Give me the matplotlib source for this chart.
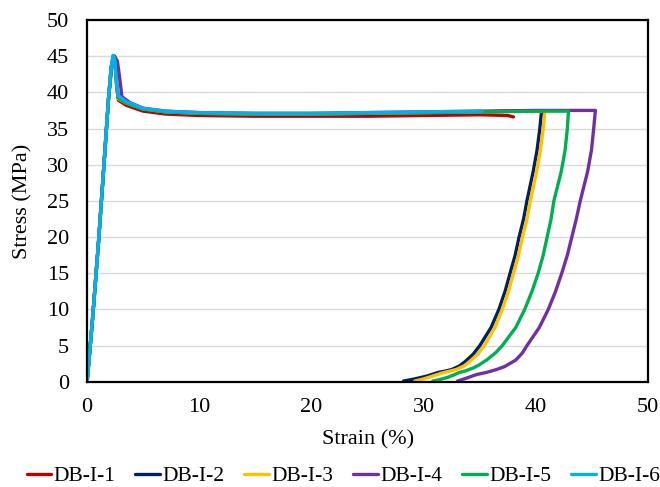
import matplotlib
matplotlib.use("Agg")
from matplotlib import pyplot as plt

plt.rcParams['font.family'] = ['Liberation Serif', 'DejaVu Serif']

labels = ["DB-I-1", "DB-I-2", "DB-I-3", "DB-I-4", "DB-I-5", "DB-I-6"]
colors = ["#C00000", "#002060", "#FFC000", "#7030A0", "#00B050", "#00B0F0"]

# loading + plateau part
# DB-I-1 (stops at ~38 %, no unloading branch)
strain_1 = [0, 0.5, 1.0, 1.5, 1.9, 2.15, 2.35, 2.5, 2.65, 2.8, 3.5, 5, 7, 10, 15, 20, 25, 30, 35, 37.5, 38.0]
stress_1 = [0, 9, 19, 30, 39, 43.5, 45.0, 44.0, 40.5, 38.9, 38.2, 37.4, 37.0, 36.8, 36.7, 36.7, 36.7, 36.8, 36.9, 36.8, 36.6]

# DB-I-2
strain_2 = [0, 0.5, 1.0, 1.5, 1.9, 2.15, 2.35, 2.5, 2.65, 2.8, 3.5, 5, 7, 10, 15, 20, 25, 30, 35, 38, 40.5,
            40.35, 40.1, 39.75, 39.2, 38.9, 38.5, 38.15, 37.7, 37.25, 36.7, 36.0, 35.0, 34.4, 33.7, 33.2,
            32.5, 32.0, 31.3, 30.3, 29.2, 28.2]
stress_2 = [0, 9, 19, 30, 39, 43.5, 45.0, 44.2, 40.8, 39.1, 38.5, 37.7, 37.3, 37.1, 37.0, 37.0, 37.1, 37.2, 37.3, 37.4, 37.4,
            35.0, 32.0, 29.0, 25.0, 22.5, 20.0, 17.5, 15.0, 12.5, 10.0, 7.5, 5.0, 3.8, 2.8, 2.2,
            1.7, 1.5, 1.3, 0.8, 0.4, 0.1]

# DB-I-3
strain_3 = [0, 0.5, 1.0, 1.5, 1.9, 2.15, 2.35, 2.5, 2.65, 2.8, 3.5, 5, 7, 10, 15, 20, 25, 30, 35, 38, 40.8,
            40.65, 40.4, 40.05, 39.5, 39.2, 38.8, 38.45, 38.0, 37.55, 37.0, 36.35, 35.4, 34.8, 34.1, 33.6,
            32.9, 32.4, 31.6, 30.8, 30.0, 29.2]
stress_3 = [0, 9, 19, 30, 39, 43.5, 45.0, 44.2, 40.8, 39.1, 38.5, 37.7, 37.3, 37.1, 37.0, 37.0, 37.1, 37.2, 37.3, 37.4, 37.4,
            35.0, 32.0, 29.0, 25.0, 22.5, 20.0, 17.5, 15.0, 12.5, 10.0, 7.5, 5.0, 3.8, 2.8, 2.2,
            1.7, 1.5, 1.2, 0.8, 0.4, 0.1]

# DB-I-4
strain_4 = [0, 0.5, 1.0, 1.5, 1.9, 2.2, 2.45, 2.7, 2.9, 3.1, 3.8, 5, 7, 10, 15, 20, 25, 30, 35, 40, 45.3,
            45.15, 44.95, 44.6, 43.95, 43.6, 43.2, 42.8, 42.3, 41.75, 41.1, 40.3, 39.2, 38.8, 38.2, 37.2,
            36.5, 35.6, 34.7, 33.8, 33.0]
stress_4 = [0, 9, 19, 30, 39, 43.5, 45.0, 44.3, 42.0, 39.4, 38.6, 37.8, 37.4, 37.2, 37.1, 37.1, 37.2, 37.3, 37.4, 37.5, 37.5,
            35.0, 32.0, 29.0, 25.0, 22.5, 20.0, 17.5, 15.0, 12.5, 10.0, 7.5, 5.0, 4.0, 3.0, 2.1,
            1.7, 1.3, 1.0, 0.5, 0.1]

# DB-I-5
strain_5 = [0, 0.5, 1.0, 1.5, 1.9, 2.15, 2.35, 2.5, 2.65, 2.8, 3.5, 5, 7, 10, 15, 20, 25, 30, 35, 40, 42.9,
            42.8, 42.6, 42.25, 41.6, 41.35, 41.0, 40.65, 40.2, 39.65, 39.0, 38.2, 37.0, 36.4, 35.6, 34.9,
            34.4, 33.7, 33.2, 32.6, 32.1, 31.4, 30.8]
stress_5 = [0, 9, 19, 30, 39, 43.5, 45.0, 44.2, 40.8, 39.2, 38.5, 37.7, 37.3, 37.1, 37.0, 37.0, 37.1, 37.2, 37.3, 37.4, 37.4,
            35.0, 32.0, 29.0, 25.0, 22.5, 20.0, 17.5, 15.0, 12.5, 10.0, 7.5, 5.0, 4.0, 3.0, 2.3,
            1.9, 1.5, 1.3, 0.9, 0.6, 0.3, 0.1]

# DB-I-6 (stops at ~35 %)
strain_6 = [0, 0.5, 1.0, 1.5, 1.9, 2.15, 2.3, 2.45, 2.6, 2.8, 3.5, 5, 7, 10, 15, 20, 25, 30, 35.2]
stress_6 = [0, 9, 19, 30, 39, 43.5, 45.1, 44.5, 41.5, 39.5, 38.7, 37.8, 37.4, 37.2, 37.1, 37.1, 37.2, 37.3, 37.4]

strains = [strain_1, strain_2, strain_3, strain_4, strain_5, strain_6]
stresses = [stress_1, stress_2, stress_3, stress_4, stress_5, stress_6]

fig = plt.figure(figsize=(6.6, 4.87), dpi=100)
ax = fig.add_axes([0.132, 0.216, 0.850, 0.743])

for x, y, lab, c in zip(strains, stresses, labels, colors):
    ax.plot(x, y, color=c, lw=2.4, label=lab, solid_capstyle='round', solid_joinstyle='round')

ax.set_xlim(0, 50)
ax.set_ylim(0, 50)
ax.set_xticks(range(0, 51, 10))
ax.set_yticks(range(0, 51, 5))
ax.yaxis.grid(True, color="#D9D9D9", lw=1.0)
ax.set_axisbelow(True)
ax.tick_params(length=0, labelsize=16)
ax.tick_params(axis='y', pad=13)
ax.tick_params(axis='x', pad=12)
for s in ax.spines.values():
    s.set_linewidth(1.6)
    s.set_color("black")

ax.set_xlabel("Strain (%)", fontsize=16)
ax.set_ylabel("Stress (MPa)", fontsize=16)
ax.xaxis.set_label_coords(0.5, -0.133)
ax.yaxis.set_label_coords(-0.098, 0.5)

fig.legend(loc="center", bbox_to_anchor=(0.52, 1 - 476 / 487), ncol=6, frameon=False,
           fontsize=15.5, handlelength=1.15, handletextpad=0.1, columnspacing=0.93, borderaxespad=0,
           borderpad=0)

fig.savefig("out.png", dpi=100)
